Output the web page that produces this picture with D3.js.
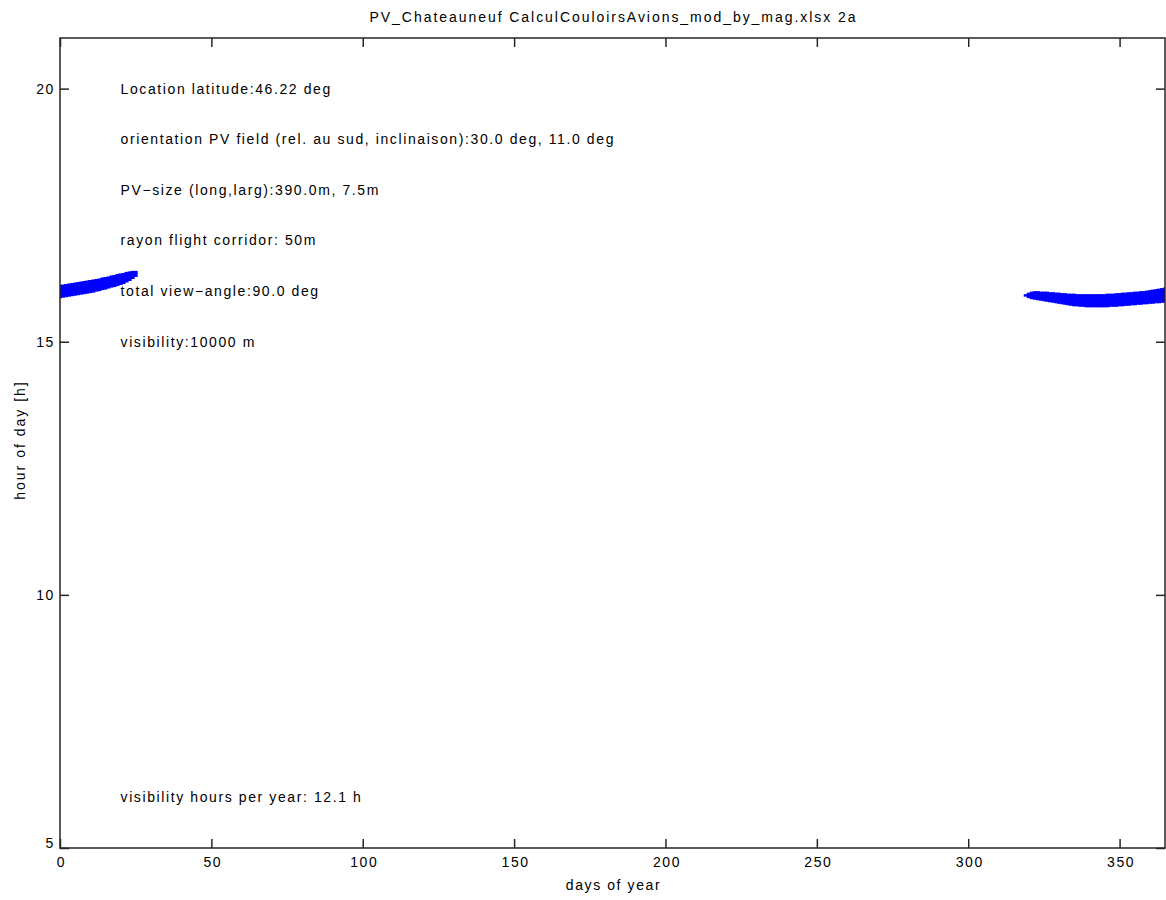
<!DOCTYPE html>
<html>
<head>
<meta charset="utf-8">
<script src="https://cdn.jsdelivr.net/npm/d3@7"></script>
<style>
	body { margin: 0; background: white; }
	text { font-family: "Liberation Sans", Arial, sans-serif; fill: #000; letter-spacing: 1.6px; }
</style>
</head>
<body>
<div id="divChart"></div>
<script>
// visible window per day (hour start / hour end)
var daysJan = [0, 1, 2, 3, 4, 5, 6, 7, 8, 9, 10, 11, 12, 13, 14, 15, 16, 17, 18, 19, 20, 21, 22, 23, 24, 25];
var startJan = [15.86, 15.87, 15.88, 15.89, 15.90, 15.91, 15.92, 15.93, 15.94, 15.95, 15.96, 15.97, 15.99,
	16.00, 16.02, 16.03, 16.05, 16.07, 16.08, 16.10, 16.12, 16.14, 16.17, 16.20, 16.24, 16.28];
var endJan = [16.12, 16.13, 16.14, 16.15, 16.16, 16.17, 16.18, 16.19, 16.20, 16.21, 16.22, 16.23, 16.24,
	16.25, 16.27, 16.28, 16.29, 16.31, 16.32, 16.34, 16.35, 16.36, 16.38, 16.39, 16.40, 16.40];

var daysDec = [319, 320, 321, 322, 323, 324, 325, 326, 327, 328, 329, 330, 331, 332, 333, 334, 335, 336,
	337, 338, 339, 340, 341, 342, 343, 344, 345, 346, 347, 348, 349, 350, 351, 352, 353, 354, 355, 356,
	357, 358, 359, 360, 361, 362, 363, 364, 365];
var startDec = [15.89, 15.86, 15.84, 15.83, 15.82, 15.81, 15.80, 15.79, 15.78, 15.77, 15.76, 15.75, 15.74,
	15.73, 15.72, 15.71, 15.70, 15.70, 15.69, 15.69, 15.68, 15.68, 15.68, 15.68, 15.68, 15.68, 15.68,
	15.68, 15.69, 15.69, 15.69, 15.70, 15.70, 15.71, 15.71, 15.72, 15.72, 15.73, 15.73, 15.74, 15.74,
	15.75, 15.75, 15.76, 15.76, 15.77, 15.77];
var endDec = [15.94, 15.97, 15.99, 16.00, 16.00, 15.99, 15.99, 15.99, 15.98, 15.98, 15.97, 15.97, 15.96,
	15.96, 15.95, 15.95, 15.95, 15.94, 15.94, 15.94, 15.94, 15.94, 15.94, 15.94, 15.94, 15.94, 15.94,
	15.95, 15.95, 15.95, 15.96, 15.96, 15.97, 15.97, 15.98, 15.98, 15.99, 15.99, 16.00, 16.00, 16.01,
	16.02, 16.03, 16.04, 16.05, 16.06, 16.07];

var xTicks = [0, 50, 100, 150, 200, 250, 300, 350];
var yTicks = [5, 10, 15, 20];

var titleText = "PV_Chateauneuf CalculCouloirsAvions_mod_by_mag.xlsx 2a";
var infoLines = [
	"Location latitude:46.22 deg",
	"orientation PV field (rel. au sud, inclinaison):30.0 deg, 11.0 deg",
	"PV\u2212size (long,larg):390.0m, 7.5m",
	"rayon flight corridor: 50m",
	"total view\u2212angle:90.0 deg",
	"visibility:10000 m"
];
var infoHours = [20, 19, 18, 17, 16, 15];
var infoDay = 20;
var summaryText = "visibility hours per year: 12.1 h";
var summaryHour = 6;

var ctx = { width: 1166, height: 900, left: 60, right: 1165, top: 38, bottom: 848 };

var svg = d3.select("#divChart")
	.append("svg")
	.attr("width", ctx.width)
	.attr("height", ctx.height);

var xscale = d3.scaleLinear().domain([0, 365]).range([ctx.left, ctx.right]);
var yscale = d3.scaleLinear().domain([5, 21]).range([ctx.bottom, ctx.top]);

svg.append("clipPath")
	.attr("id", "plotClip")
	.append("rect")
	.attr("x", ctx.left)
	.attr("y", ctx.top)
	.attr("width", ctx.right - ctx.left)
	.attr("height", ctx.bottom - ctx.top);

// visibility marks
var pts = [];
for (let i = 0; i < daysJan.length; i++) {
	pts.push({ day: daysJan[i], h0: startJan[i], h1: endJan[i] });
}
for (let i = 0; i < daysDec.length; i++) {
	pts.push({ day: daysDec[i], h0: startDec[i], h1: endDec[i] });
}

svg.append("g")
	.attr("clip-path", "url(#plotClip)")
	.selectAll("line")
	.data(pts)
	.join("line")
	.attr("x1", (d) => xscale(d.day))
	.attr("x2", (d) => xscale(d.day))
	.attr("y1", (d) => yscale(d.h0))
	.attr("y2", (d) => yscale(d.h1))
	.attr("stroke", "#0000ff")
	.attr("stroke-width", 4);

// axes, ticks inward on all four sides
var axisColor = "#262626";
var tickLen = 9;

svg.append("rect")
	.attr("x", ctx.left)
	.attr("y", ctx.top)
	.attr("width", ctx.right - ctx.left)
	.attr("height", ctx.bottom - ctx.top)
	.attr("fill", "none")
	.attr("stroke", axisColor)
	.attr("stroke-width", 1.5);

var gx = svg.append("g")
	.attr("class", "x-axis")
	.attr("transform", "translate(0," + ctx.bottom + ")")
	.call(d3.axisBottom(xscale).tickValues(xTicks).tickSizeInner(-tickLen).tickSizeOuter(0).tickPadding(9));
var gxTop = svg.append("g")
	.attr("transform", "translate(0," + ctx.top + ")")
	.call(d3.axisTop(xscale).tickValues(xTicks).tickSizeInner(-tickLen).tickSizeOuter(0).tickFormat(""));
var gy = svg.append("g")
	.attr("class", "y-axis")
	.attr("transform", "translate(" + ctx.left + ",0)")
	.call(d3.axisLeft(yscale).tickValues(yTicks).tickSizeInner(-tickLen).tickSizeOuter(0).tickPadding(5));
var gyRight = svg.append("g")
	.attr("transform", "translate(" + ctx.right + ",0)")
	.call(d3.axisRight(yscale).tickValues(yTicks).tickSizeInner(-tickLen).tickSizeOuter(0).tickFormat(""));

[gx, gxTop, gy, gyRight].forEach((g) => {
	g.select(".domain").remove();
	g.selectAll("line").attr("stroke", axisColor).attr("stroke-width", 1.5);
	g.selectAll("text").style("font-size", "14px").attr("font-family", null).attr("fill", "#000");
});
gx.selectAll("text").attr("dx", "1px");
gy.selectAll(".tick")
	.filter((d) => d == 5)
	.select("text")
	.attr("dy", "-0.05em");

// texts
svg.append("text")
	.attr("x", (ctx.left + ctx.right) / 2 + 1)
	.attr("y", 22)
	.attr("text-anchor", "middle")
	.style("font-size", "14px")
	.style("letter-spacing", "1.95px")
	.text(titleText);

svg.append("text")
	.attr("x", (ctx.left + ctx.right) / 2 + 1)
	.attr("y", 890)
	.attr("text-anchor", "middle")
	.style("font-size", "14px")
	.text("days of year");

svg.append("text")
	.attr("transform", "translate(25," + ((ctx.top + ctx.bottom) / 2 - 3) + ") rotate(-90)")
	.attr("text-anchor", "middle")
	.style("font-size", "14px")
	.style("letter-spacing", "2px")
	.text("hour of day [h]");

svg.append("g")
	.selectAll("text")
	.data(infoLines)
	.join("text")
	.attr("x", xscale(infoDay))
	.attr("y", (d, i) => yscale(infoHours[i]))
	.attr("dy", "0.35em")
	.style("font-size", "14px")
	.text((d) => d);

svg.append("text")
	.attr("x", xscale(infoDay))
	.attr("y", yscale(summaryHour))
	.attr("dy", "0.35em")
	.style("font-size", "14px")
	.text(summaryText);
</script>
</body>
</html>
